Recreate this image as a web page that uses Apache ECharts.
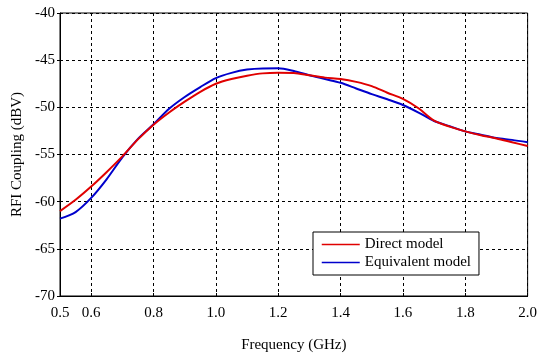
<!DOCTYPE html>
<html>
<head>
<meta charset="utf-8">
<script src="https://cdn.jsdelivr.net/npm/echarts@6/dist/echarts.min.js"></script>
<style>html,body{margin:0;padding:0;background:#fff;}#c{width:540px;height:358px;}</style>
</head>
<body>
<div id="c"></div>
<script>
var freq = [0.50,0.55,0.60,0.65,0.70,0.75,0.80,0.85,0.90,0.95,1.00,1.05,1.10,1.15,1.20,1.25,1.30,1.35,1.40,1.45,1.50,1.55,1.60,1.65,1.70,1.75,1.80,1.85,1.90,1.95,2.00];
var directModel = [-61.0,-59.8,-58.4,-56.85,-55.2,-53.4,-51.85,-50.55,-49.4,-48.35,-47.5,-47.0,-46.65,-46.4,-46.33,-46.35,-46.6,-46.85,-47.0,-47.3,-47.75,-48.45,-49.1,-50.1,-51.4,-52.05,-52.55,-52.95,-53.3,-53.7,-54.1];
var equivalentModel = [-61.8,-61.1,-59.6,-57.6,-55.3,-53.35,-51.8,-50.15,-48.9,-47.85,-46.9,-46.35,-46.0,-45.88,-45.87,-46.15,-46.6,-47.0,-47.4,-48.0,-48.6,-49.15,-49.75,-50.55,-51.45,-52.0,-52.55,-52.9,-53.25,-53.45,-53.7];
var xTicks = [0.5,0.6,0.8,1.0,1.2,1.4,1.6,1.8,2.0];
var seriesNames = ['Direct model','Equivalent model'];

function pairs(xs, ys){ return xs.map(function(x,i){ return [x, ys[i]]; }); }

var font = 'Liberation Serif, Times New Roman, serif';
var chart = echarts.init(document.getElementById('c'), null, {renderer:'canvas'});
chart.setOption({
  animation: false,
  backgroundColor: '#fff',
  textStyle: {fontFamily: font},
  grid: {left: 60, right: 11, top: 13, bottom: 59, show: true, borderColor: '#000', borderWidth: 1, backgroundColor: 'transparent'},
  legend: {
    orient: 'vertical', left: 313, top: 232,
    backgroundColor: '#fff', borderColor: '#000', borderWidth: 1,
    padding: [5, 8, 5, 8], itemGap: 3, itemWidth: 38, itemHeight: 16,
    itemStyle: {opacity: 0},
    lineStyle: {width: 1.5},
    textStyle: {fontFamily: font, fontSize: 15, color: '#000'},
    data: seriesNames
  },
  xAxis: {
    type: 'value', min: 0.5, max: 2.0,
    name: 'Frequency (GHz)', nameLocation: 'middle', nameGap: 42,
    nameTextStyle: {fontFamily: font, fontSize: 15, color: '#000'},
    axisLine: {lineStyle: {color: '#000', width: 1}},
    axisTick: {show: true, inside: true, length: 3, customValues: xTicks, lineStyle: {color: '#000'}},
    axisLabel: {customValues: xTicks, margin: 10, fontFamily: font, fontSize: 15, color: '#000',
      formatter: function(v){ return v.toFixed(1); }},
    splitLine: {show: true, lineStyle: {color: '#000', type: [3,3], width: 1}}
  },
  yAxis: {
    type: 'value', min: -70, max: -40, interval: 5,
    name: 'RFI Coupling (dBV)', nameLocation: 'middle', nameGap: 32,
    nameTextStyle: {fontFamily: font, fontSize: 15, color: '#000'},
    axisLine: {show: true, lineStyle: {color: '#000', width: 1}},
    axisTick: {show: true, length: 3, lineStyle: {color: '#000'}},
    axisLabel: {margin: 5, fontFamily: font, fontSize: 15, color: '#000'},
    splitLine: {show: true, lineStyle: {color: '#000', type: [3,3], width: 1}}
  },
  series: [
    {name: seriesNames[0], type: 'line', data: pairs(freq, directModel), smooth: 0.3, showSymbol: false, symbol: 'none',
     lineStyle: {color: '#e00000', width: 2}, itemStyle: {color: '#e00000'}, z: 3},
    {name: seriesNames[1], type: 'line', data: pairs(freq, equivalentModel), smooth: 0.3, showSymbol: false, symbol: 'none',
     lineStyle: {color: '#0000cc', width: 2}, itemStyle: {color: '#0000cc'}, z: 2}
  ]
});
</script>
</body>
</html>
